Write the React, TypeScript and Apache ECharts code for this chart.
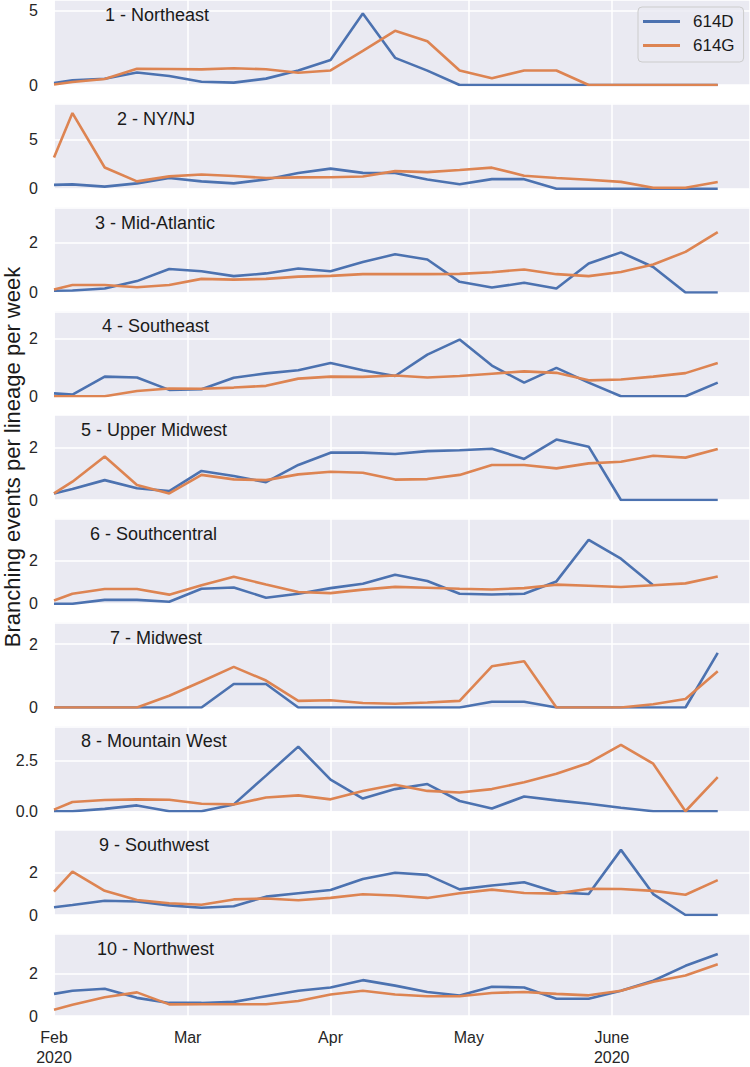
import React, { useEffect, useRef } from "react";
import * as echarts from "echarts";

// Weekly sampling dates (first entry is the left edge of the window)
const dates = [
  "2020-02-01", "2020-02-05", "2020-02-12", "2020-02-19", "2020-02-26",
  "2020-03-04", "2020-03-11", "2020-03-18", "2020-03-25", "2020-04-01",
  "2020-04-08", "2020-04-15", "2020-04-22", "2020-04-29", "2020-05-06",
  "2020-05-13", "2020-05-20", "2020-05-27", "2020-06-03", "2020-06-10",
  "2020-06-17", "2020-06-24",
];

const regions = [
  "1 - Northeast", "2 - NY/NJ", "3 - Mid-Atlantic", "4 - Southeast", "5 - Upper Midwest",
  "6 - Southcentral", "7 - Midwest", "8 - Mountain West", "9 - Southwest", "10 - Northwest",
];

const seriesNames = ["614D", "614G"];

// 614D values per region
const d614_1 = [0.14, 0.32, 0.42, 0.84, 0.61, 0.22, 0.16, 0.43, 0.97, 1.68, 4.82, 1.83, 0.97, 0, 0, 0, 0, 0, 0, 0, 0, 0];
const d614_2 = [0.4, 0.45, 0.22, 0.55, 1.1, 0.75, 0.55, 0.95, 1.6, 2.05, 1.62, 1.6, 0.95, 0.45, 0.98, 0.98, 0, 0, 0, 0, 0, 0];
const d614_3 = [0.07, 0.08, 0.16, 0.46, 0.95, 0.86, 0.66, 0.77, 0.97, 0.86, 1.23, 1.54, 1.33, 0.43, 0.2, 0.39, 0.16, 1.17, 1.62, 1.03, 0, 0];
const d614_4 = [0.1, 0.06, 0.68, 0.65, 0.22, 0.24, 0.64, 0.79, 0.9, 1.15, 0.9, 0.7, 1.44, 1.96, 1.06, 0.47, 0.98, 0.47, 0, 0, 0, 0.47];
const d614_5 = [0.25, 0.42, 0.76, 0.45, 0.34, 1.11, 0.92, 0.68, 1.34, 1.81, 1.81, 1.76, 1.87, 1.9, 1.96, 1.57, 2.31, 2.04, 0, 0, 0, 0];
const d614_6 = [0, 0, 0.18, 0.18, 0.09, 0.69, 0.75, 0.28, 0.46, 0.72, 0.92, 1.34, 1.05, 0.46, 0.43, 0.46, 1.03, 2.95, 2.08, 0.85, null, null];
const d614_7 = [0, 0, 0, 0, 0, 0, 0.74, 0.74, 0, 0, 0, 0, 0, 0, 0.18, 0.18, 0, 0, 0, 0, 0, 1.72];
const d614_8 = [0, 0, 0.12, 0.29, 0, 0, 0.34, 1.77, 3.21, 1.57, 0.63, 1.1, 1.35, 0.51, 0.14, 0.73, 0.54, 0.37, 0.17, 0, 0, 0];
const d614_9 = [0.36, 0.47, 0.67, 0.63, 0.45, 0.34, 0.41, 0.86, 1.02, 1.17, 1.69, 1.98, 1.88, 1.2, 1.38, 1.53, 1.06, 0.98, 3.05, 0.98, 0, 0];
const d614_10 = [1.05, 1.2, 1.29, 0.86, 0.62, 0.62, 0.67, 0.94, 1.2, 1.35, 1.7, 1.44, 1.14, 0.97, 1.39, 1.35, 0.82, 0.82, 1.2, 1.67, 2.38, 2.94];

// 614G values per region
const g614_1 = [0.03, 0.2, 0.4, 1.1, 1.08, 1.05, 1.13, 1.06, 0.83, 0.98, 2.3, 3.65, 2.95, 0.98, 0.45, 0.98, 0.98, 0, 0, 0, 0, 0];
const g614_2 = [3.2, 7.72, 2.17, 0.75, 1.26, 1.45, 1.3, 1.1, 1.16, 1.18, 1.25, 1.8, 1.7, 1.92, 2.15, 1.33, 1.1, 0.92, 0.7, 0.1, 0.1, 0.68];
const g614_3 = [0.12, 0.3, 0.3, 0.21, 0.3, 0.55, 0.52, 0.55, 0.64, 0.67, 0.74, 0.74, 0.74, 0.75, 0.82, 0.93, 0.74, 0.66, 0.83, 1.13, 1.64, 2.44];
const g614_4 = [0, 0, 0, 0.18, 0.27, 0.26, 0.3, 0.36, 0.61, 0.68, 0.67, 0.72, 0.65, 0.7, 0.78, 0.86, 0.81, 0.55, 0.58, 0.68, 0.8, 1.15];
const g614_5 = [0.25, 0.7, 1.66, 0.57, 0.25, 0.96, 0.79, 0.76, 0.98, 1.08, 1.04, 0.78, 0.8, 0.96, 1.34, 1.34, 1.21, 1.4, 1.46, 1.69, 1.62, 1.95];
const g614_6 = [0.15, 0.46, 0.68, 0.68, 0.42, 0.85, 1.25, 0.89, 0.54, 0.49, 0.65, 0.78, 0.74, 0.69, 0.66, 0.72, 0.88, 0.83, 0.77, 0.85, 0.94, 1.26];
const g614_7 = [0, 0, 0, 0, 0.37, 0.82, 1.28, 0.85, 0.21, 0.23, 0.14, 0.12, 0.16, 0.21, 1.3, 1.46, 0, 0, 0, 0.1, 0.27, 1.14];
const g614_8 = [0.08, 0.46, 0.56, 0.59, 0.57, 0.37, 0.34, 0.68, 0.79, 0.59, 1.01, 1.32, 1.01, 0.93, 1.1, 1.44, 1.86, 2.4, 3.29, 2.36, 0, 1.69];
const g614_9 = [1.09, 2.03, 1.13, 0.7, 0.55, 0.48, 0.73, 0.77, 0.69, 0.8, 0.97, 0.91, 0.8, 1.02, 1.19, 1.03, 1.0, 1.23, 1.22, 1.13, 0.95, 1.63];
const g614_10 = [0.3, 0.53, 0.89, 1.12, 0.55, 0.56, 0.56, 0.56, 0.71, 1.02, 1.2, 1.02, 0.94, 0.94, 1.09, 1.14, 1.05, 0.98, 1.2, 1.62, 1.92, 2.45];

const d614 = [d614_1, d614_2, d614_3, d614_4, d614_5, d614_6, d614_7, d614_8, d614_9, d614_10];
const g614 = [g614_1, g614_2, g614_3, g614_4, g614_5, g614_6, g614_7, g614_8, g614_9, g614_10];

// y-axis upper limits and tick steps per region
const yMax = [5.73, 8.67, 3.43, 2.94, 3.25, 3.92, 2.68, 4.22, 3.98, 3.9];
const yStep = [5, 5, 2, 2, 2, 2, 2, 2.5, 2, 2];

const monthLabels = ["Jan", "Feb", "Mar", "Apr", "May", "June", "Jul"];

const FONT = '"Liberation Sans", Arial, Helvetica, sans-serif';
const BLUE = "#4c72b0";
const ORANGE = "#dd8452";
const TEXT = "#262626";

// layout
const PLOT_LEFT = 54;
const PANEL_STEP = 103.75;
const PANEL_H = 85;
const titleX = [105, 117, 95, 102, 81, 90, 110, 81, 99, 97];

export default function App() {
  const ref = useRef<HTMLDivElement>(null);

  useEffect(() => {
    if (!ref.current) return;
    const chart = echarts.init(ref.current, undefined, { renderer: "svg" });
    const n = regions.length;

    const grids = regions.map((_, i) => ({
      left: PLOT_LEFT,
      right: 0,
      top: i * PANEL_STEP,
      height: PANEL_H,
      show: true,
      backgroundColor: "#eaeaf2",
      borderWidth: 0,
      containLabel: false,
    }));

    const xAxes = regions.map((_, i) => ({
      type: "time",
      gridIndex: i,
      min: "2020-02-01",
      max: "2020-07-01",
      splitNumber: 5,
      axisLine: { show: false },
      axisTick: { show: false },
      splitLine: { show: true, lineStyle: { color: "#ffffff", width: 1.5 } },
      axisLabel: {
        show: i === n - 1,
        showMinLabel: true,
        showMaxLabel: false,
        hideOverlap: false,
        margin: 11,
        fontSize: 16,
        lineHeight: 20,
        color: TEXT,
        fontFamily: FONT,
        formatter: (value: number) => {
          const d = new Date(value);
          if (d.getDate() !== 1) return "";
          const m = d.getMonth();
          const name = monthLabels[m] || "";
          if (m === 6) return "";
          if (m === 1 || m === 5) return name + "\n" + d.getFullYear();
          return name;
        },
      },
    }));

    const yAxes = regions.map((_, i) => ({
      type: "value",
      gridIndex: i,
      min: 0,
      max: yMax[i],
      interval: yStep[i],
      axisLine: { show: false },
      axisTick: { show: false },
      splitLine: { show: true, lineStyle: { color: "#ffffff", width: 1.5 } },
      axisLabel: {
        showMaxLabel: false,
        margin: 16,
        fontSize: 16,
        color: TEXT,
        fontFamily: FONT,
        formatter: (v: number) => {
          const r = v / yStep[i];
          if (Math.abs(r - Math.round(r)) > 1e-6) return "";
          return yStep[i] % 1 !== 0 ? v.toFixed(1) : String(Math.round(v));
        },
      },
    }));

    const series: any[] = [];
    regions.forEach((_, i) => {
      [d614[i], g614[i]].forEach((vals, s) => {
        series.push({
          name: seriesNames[s],
          type: "line",
          xAxisIndex: i,
          yAxisIndex: i,
          data: dates.map((d, k) => [d, vals[k] === null ? "-" : vals[k]]),
          symbol: "none",
          clip: true,
          connectNulls: false,
          color: s === 0 ? BLUE : ORANGE,
          lineStyle: { width: 2.6, color: s === 0 ? BLUE : ORANGE },
          emphasis: { disabled: true },
        });
      });
    });

    const graphics: any[] = regions.map((t, i) => ({
      type: "text",
      x: titleX[i],
      y: i * PANEL_STEP + 15,
      style: {
        text: t,
        fontSize: 18,
        fontFamily: FONT,
        fill: "#1a1a1a",
        align: "left",
        verticalAlign: "middle",
        textAlign: "left",
        textVerticalAlign: "middle",
      },
      z: 10,
    }));
    graphics.push({
      type: "text",
      x: 12,
      y: 457,
      rotation: Math.PI / 2,
      style: {
        text: "Branching events per lineage per week",
        fontSize: 22,
        fontFamily: FONT,
        fill: "#1a1a1a",
        align: "center",
        verticalAlign: "middle",
        textAlign: "center",
        textVerticalAlign: "middle",
      },
    });

    chart.setOption({
      animation: false,
      backgroundColor: "#ffffff",
      textStyle: { fontFamily: FONT },
      grid: grids,
      xAxis: xAxes,
      yAxis: yAxes,
      series,
      legend: {
        data: seriesNames,
        orient: "vertical",
        left: 638,
        top: 7,
        icon: "rect",
        itemWidth: 37,
        itemHeight: 3,
        itemGap: 7,
        padding: [6, 9, 8, 5],
        backgroundColor: "rgba(234,234,242,0.85)",
        borderColor: "#cccccc",
        borderWidth: 1,
        borderRadius: 4,
        selectedMode: false,
        textStyle: { fontSize: 17, color: "#1a1a1a", fontFamily: FONT, padding: [0, 0, 0, 8] },
      },
      graphic: graphics,
    });

    return () => chart.dispose();
  }, []);

  return (
    <div
      ref={ref}
      style={{ position: "absolute", left: 0, top: 0, width: 750, height: 1067 }}
    />
  );
}
